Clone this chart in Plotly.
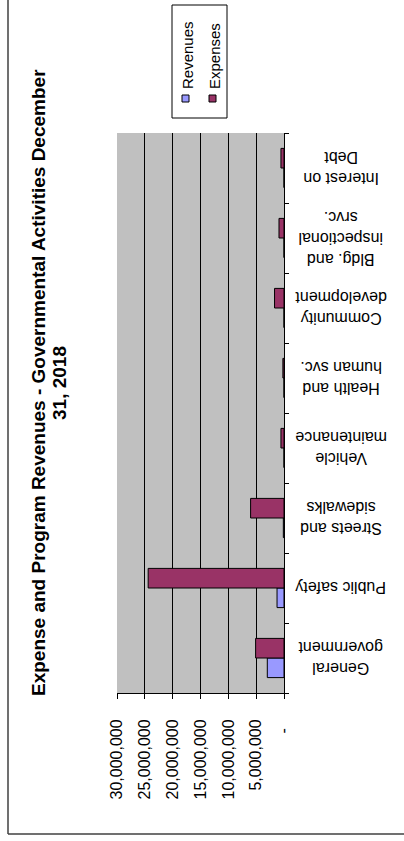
import plotly.graph_objects as go

W, H = 404, 841

categories = ["General government", "Public safety", "Streets and sidewalks",
              "Vehicle maintenance", "Health and human svc.", "Community development",
              "Bldg. and inspectional srvc.", "Interest on Debt"]
category_labels = ["General<br>government", "Public safety", "Streets and<br>sidewalks",
                   "Vehicle<br>maintenance", "Health and<br>human svc.", "Community<br>development",
                   "Bldg. and<br>inspectional<br>srvc.", "Interest on<br>Debt"]
revenues = [3000000, 1250000, 120000, 0, 0, 0, 0, 0]
expenses = [5100000, 24400000, 6000000, 550000, 200000, 1700000, 900000, 550000]
tick_values = [0, 5000000, 10000000, 15000000, 20000000, 25000000, 30000000]
tick_labels = ["-\u00a0\u00a0", "5,000,000", "10,000,000", "15,000,000",
               "20,000,000", "25,000,000", "30,000,000"]
title_line1 = "Expense and Program Revenues - Governmental Activities December"
title_line2 = "31, 2018"

FONT = "Liberation Sans, Arial, sans-serif"


def X(px):
    return px / W


def Y(py):
    return 1 - py / H


fig = go.Figure()
fig.add_trace(go.Bar(y=categories, x=revenues, orientation="h", name="Revenues",
                     marker=dict(color="#9999FF", line=dict(color="black", width=1))))
fig.add_trace(go.Bar(y=categories, x=expenses, orientation="h", name="Expenses",
                     marker=dict(color="#993366", line=dict(color="black", width=1))))

annotations = []
# title (rotated, two lines)
for txt, cx in [(title_line1, 38), (title_line2, 59)]:
    annotations.append(dict(text="<b>" + txt + "</b>", textangle=-90, x=X(cx), y=Y(383),
                            xref="paper", yref="paper",
                            xanchor="center", yanchor="middle", showarrow=False,
                            font=dict(family=FONT, size=19, color="black"), align="center"))
# category labels (upside down)
for cat, lab in zip(categories, category_labels):
    annotations.append(dict(text=lab, textangle=180, x=X(341), y=cat, xref="paper", yref="y",
                            xanchor="center", yanchor="middle", showarrow=False,
                            font=dict(family=FONT, size=16, color="black"), align="center"))
# legend
for name, cx in [("Revenues", 187), ("Expenses", 214)]:
    annotations.append(dict(text=name, textangle=-90, x=X(cx), y=Y(91), xref="paper", yref="paper",
                            xanchor="center", yanchor="bottom", showarrow=False,
                            font=dict(family=FONT, size=15, color="black")))

shapes = [
    dict(type="rect", xref="paper", yref="paper", x0=X(172), x1=X(227), y0=Y(5), y1=Y(118),
         line=dict(color="black", width=1), fillcolor="white", layer="below"),
    dict(type="rect", xref="paper", yref="paper", x0=X(182), x1=X(189), y0=Y(95), y1=Y(102),
         line=dict(color="black", width=1), fillcolor="#9999FF"),
    dict(type="rect", xref="paper", yref="paper", x0=X(209), x1=X(216), y0=Y(95), y1=Y(102),
         line=dict(color="black", width=1), fillcolor="#993366"),
    dict(type="line", xref="paper", yref="paper", x0=X(8), x1=X(8), y0=Y(-5), y1=Y(834),
         line=dict(color="#404040", width=1.5)),
    dict(type="line", xref="paper", yref="paper", x0=X(8), x1=X(410), y0=Y(834), y1=Y(834),
         line=dict(color="#404040", width=1.5)),
]

fig.update_layout(
    width=W, height=H,
    margin=dict(l=0, r=0, t=0, b=0),
    paper_bgcolor="white", plot_bgcolor="#C0C0C0",
    barmode="group", bargap=0.44, bargroupgap=0,
    showlegend=False,
    annotations=annotations, shapes=shapes,
    font=dict(family=FONT, color="black"),
    xaxis=dict(domain=[X(117), X(284)], range=[30000000, 0],
               tickvals=tick_values, ticktext=tick_labels, tickangle=-90,
               tickfont=dict(family=FONT, size=16, color="black"),
               showgrid=True, gridcolor="black", gridwidth=1,
               showline=True, linecolor="black", linewidth=1,
               ticks="outside", ticklen=5, tickcolor="black",
               ticklabelstandoff=14, zeroline=False, automargin=False, fixedrange=True),
    yaxis=dict(domain=[Y(693), Y(133)], type="category", side="right",
               categoryorder="array", categoryarray=categories,
               showticklabels=False, ticks="outside", ticklen=4, tickcolor="black",
               tickson="boundaries", showgrid=False,
               showline=True, linecolor="black", linewidth=1,
               automargin=False, fixedrange=True),
)

fig.write_html("out.html")
